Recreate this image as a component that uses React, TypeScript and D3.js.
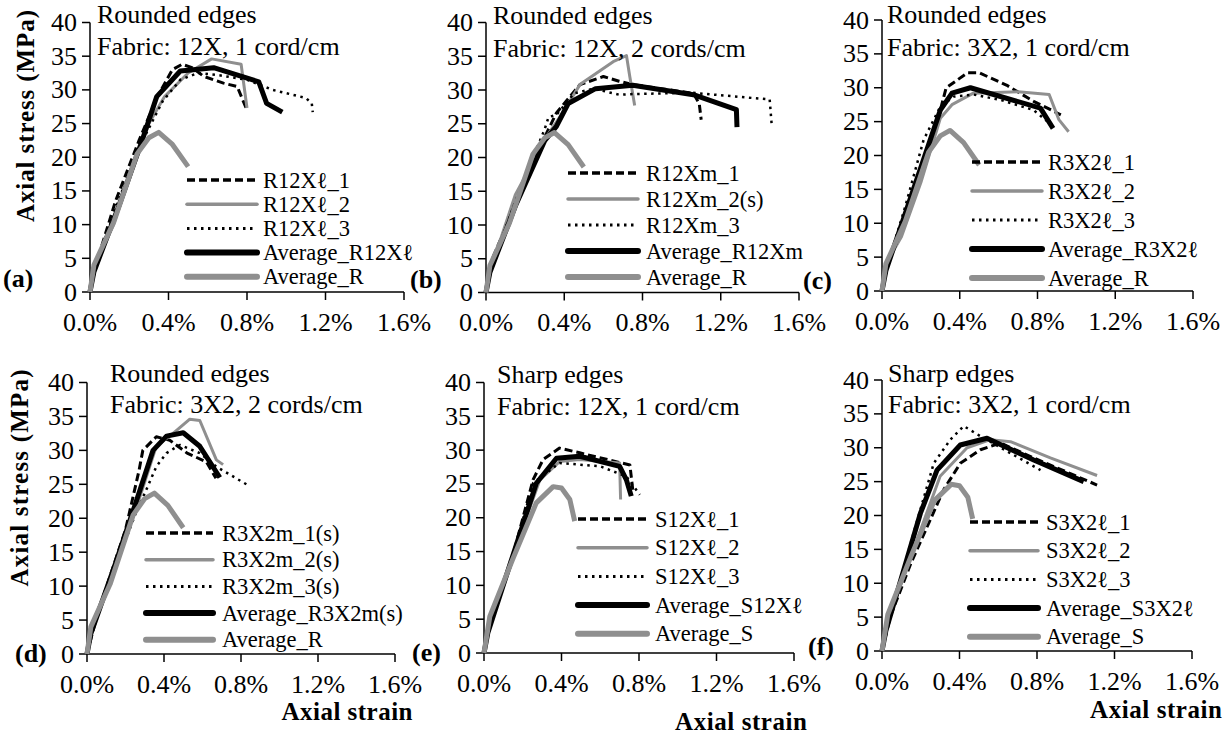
import React from "react";
import * as d3 from "d3";

type Pt = [number, number];

// ---------- DATA ----------
const yTicks = [0, 5, 10, 15, 20, 25, 30, 35, 40];
const xTicks = [0, 0.4, 0.8, 1.2, 1.6];
const xTickLabels = ["0.0%", "0.4%", "0.8%", "1.2%", "1.6%"];

const averageR: Pt[] = [[0, 0], [0.02, 4], [0.12, 10.3], [0.24, 20.5], [0.3, 22.9], [0.35, 23.7], [0.42, 21.9], [0.5, 18.6]];
const averageS: Pt[] = [[0, 0], [0.03, 5.4], [0.15, 14], [0.27, 22.2], [0.357, 24.6], [0.4, 24.4], [0.443, 22.7], [0.468, 19.5]];

// (a)
const r12xl1: Pt[] = [[0, 0], [0.03, 4], [0.13, 13.5], [0.25, 22.5], [0.34, 28.8], [0.42, 33], [0.47, 33.8], [0.52, 33.3], [0.58, 32], [0.68, 31], [0.75, 30.5], [0.8, 27]];
const r12xl2: Pt[] = [[0, 0], [0.02, 4], [0.12, 10], [0.2, 17], [0.3, 25], [0.38, 29], [0.5, 32.5], [0.62, 34.6], [0.77, 33.8], [0.8, 27.3]];
const r12xl3: Pt[] = [[0, 0], [0.03, 4], [0.15, 14], [0.26, 22], [0.37, 28.3], [0.46, 31.5], [0.55, 32.5], [0.65, 32.2], [0.8, 31.5], [0.93, 30], [1.1, 28.8], [1.13, 28], [1.135, 26.7]];
const avgR12xl: Pt[] = [[0, 0], [0.02, 3], [0.15, 13], [0.26, 22], [0.34, 29], [0.46, 32.8], [0.63, 33.3], [0.86, 31.2], [0.9, 28], [0.98, 26.7]];

// (b)
const r12xm1: Pt[] = [[0, 0], [0.037, 5.3], [0.15, 13], [0.3, 23], [0.36, 26.6], [0.48, 30.8], [0.6, 32], [0.68, 31.3], [0.75, 30.8], [1.06, 29.5], [1.09, 28], [1.1, 25.6]];
const r12xm2: Pt[] = [[0, 0], [0.03, 4], [0.15, 14.5], [0.31, 23.1], [0.4, 27], [0.48, 30.8], [0.65, 34.2], [0.718, 35.1], [0.735, 32], [0.76, 27.7]];
const r12xm3: Pt[] = [[0, 0], [0.03, 4], [0.15, 13.5], [0.29, 23.5], [0.3, 24.2], [0.32, 26], [0.36, 26.3], [0.45, 29.5], [0.55, 30.2], [0.68, 29.3], [0.75, 29.4], [1.05, 29.6], [1.45, 28.6], [1.46, 25]];
const avgR12xm: Pt[] = [[0, 0], [0.02, 3], [0.15, 12.8], [0.3, 22.5], [0.36, 24.6], [0.42, 28], [0.56, 30.2], [0.75, 30.7], [1.06, 29.3], [1.28, 27.1], [1.283, 24.5]];

// (c)
const r3x2l1: Pt[] = [[0, 0], [0.03, 4], [0.15, 14], [0.3, 26.7], [0.33, 30], [0.44, 32.2], [0.5, 32.2], [0.64, 30.4], [0.78, 28], [0.92, 26]];
const r3x2l2: Pt[] = [[0, 0], [0.03, 4.5], [0.1, 8], [0.2, 16], [0.3, 25.5], [0.36, 27.5], [0.47, 29.2], [0.7, 29.4], [0.86, 29], [0.91, 25.3], [0.96, 23.5]];
const r3x2l3: Pt[] = [[0, 0], [0.03, 4], [0.12, 12.5], [0.214, 22.3], [0.3, 27.2], [0.37, 28.7], [0.47, 29], [0.61, 28.2], [0.78, 26.7], [0.86, 24.8]];
const avgR3x2l: Pt[] = [[0, 0], [0.02, 3], [0.15, 14], [0.3, 26.7], [0.36, 29.2], [0.455, 30], [0.815, 27], [0.88, 24]];

// (d)
const r3x2m1: Pt[] = [[0, 0], [0.05, 5.5], [0.2, 18.3], [0.27, 27], [0.29, 30], [0.36, 32], [0.43, 31.5], [0.52, 29.6], [0.62, 28.3], [0.67, 25.9]];
const r3x2m2: Pt[] = [[0, 0], [0.03, 4], [0.15, 13.5], [0.25, 21], [0.36, 30.6], [0.447, 32.5], [0.534, 34.6], [0.586, 34.4], [0.672, 28.6], [0.707, 27.9]];
const r3x2m3: Pt[] = [[0, 0], [0.03, 4], [0.15, 13], [0.25, 20.5], [0.308, 24.2], [0.36, 27.6], [0.413, 29.6], [0.482, 30.8], [0.586, 29.6], [0.672, 27.6], [0.846, 24.7]];
const avgR3x2m: Pt[] = [[0, 0], [0.02, 3], [0.15, 13.5], [0.25, 22], [0.343, 30], [0.413, 32.1], [0.5, 32.6], [0.586, 30.6], [0.69, 26]];

// (e)
const s12xl1: Pt[] = [[0, 0], [0.03, 4], [0.15, 14.5], [0.253, 25.6], [0.305, 28.6], [0.39, 30.3], [0.494, 29.6], [0.753, 27.8], [0.77, 23.6]];
const s12xl2: Pt[] = [[0, 0], [0.03, 5], [0.15, 14.5], [0.288, 25.6], [0.39, 28.3], [0.494, 28.6], [0.7, 28.1], [0.705, 22.7]];
const s12xl3: Pt[] = [[0, 0], [0.03, 4], [0.15, 14.5], [0.253, 25.1], [0.39, 28.1], [0.6, 27.6], [0.735, 26.1], [0.804, 23.4]];
const avgS12xl: Pt[] = [[0, 0], [0.02, 3], [0.15, 14.5], [0.27, 25.1], [0.374, 28.8], [0.494, 29.1], [0.7, 27.6], [0.735, 25.6], [0.76, 23.2]];

// (f)
const s3x2l1: Pt[] = [[0, 0], [0.043, 5.1], [0.15, 13], [0.318, 23.8], [0.404, 27.7], [0.508, 29.7], [0.611, 30.7], [0.783, 28.5], [1.11, 24.5]];
const s3x2l2: Pt[] = [[0, 0], [0.03, 4.5], [0.15, 14], [0.3, 25.8], [0.439, 30], [0.559, 31.2], [0.663, 30.9], [0.869, 28.5], [1.11, 25.9]];
const s3x2l3: Pt[] = [[0, 0], [0.03, 4], [0.163, 17.4], [0.267, 27.7], [0.353, 31.2], [0.422, 33.2], [0.508, 31.7], [0.663, 29.2], [0.818, 26.7]];
const avgS3x2l: Pt[] = [[0, 0], [0.02, 3], [0.198, 20.3], [0.284, 26.7], [0.404, 30.4], [0.542, 31.4], [0.783, 28.2], [1.041, 25]];

const labelsA = ["R12Xℓ_1", "R12Xℓ_2", "R12Xℓ_3", "Average_R12Xℓ", "Average_R"];
const labelsB = ["R12Xm_1", "R12Xm_2(s)", "R12Xm_3", "Average_R12Xm", "Average_R"];
const labelsC = ["R3X2ℓ_1", "R3X2ℓ_2", "R3X2ℓ_3", "Average_R3X2ℓ", "Average_R"];
const labelsD = ["R3X2m_1(s)", "R3X2m_2(s)", "R3X2m_3(s)", "Average_R3X2m(s)", "Average_R"];
const labelsE = ["S12Xℓ_1", "S12Xℓ_2", "S12Xℓ_3", "Average_S12Xℓ", "Average_S"];
const labelsF = ["S3X2ℓ_1", "S3X2ℓ_2", "S3X2ℓ_3", "Average_S3X2ℓ", "Average_S"];

const titles1 = ["Rounded edges", "Rounded edges", "Rounded edges", "Rounded edges", "Sharp edges", "Sharp edges"];
const titles2 = ["Fabric: 12X, 1 cord/cm", "Fabric: 12X, 2 cords/cm", "Fabric: 3X2, 1 cord/cm", "Fabric: 3X2, 2 cords/cm", "Fabric: 12X, 1 cord/cm", "Fabric: 3X2, 1 cord/cm"];
const panelTags = ["(a)", "(b)", "(c)", "(d)", "(e)", "(f)"];

// ---------- STYLES / LAYOUT ----------
const GRAY = "#8f8f8f";
const styles = [
  { stroke: "#000", width: 3, dash: "8,4" },
  { stroke: GRAY, width: 3, dash: "" },
  { stroke: "#000", width: 2.5, dash: "2.5,4.5" },
  { stroke: "#000", width: 5, dash: "" },
  { stroke: GRAY, width: 5, dash: "" },
];

const FONT = "'Liberation Serif', 'Times New Roman', serif";

interface Layout {
  x0: number; x1: number; yTop: number; yBot: number;
  lx0: number; lx1: number; tx: number; ly0: number; ldy: number;
  ax: number; ab1: number; ab2: number;
  tagX: number; tagY: number;
}

const layouts: Layout[] = [
  { x0: 90, x1: 404, yTop: 22.5, yBot: 292, lx0: 187, lx1: 257, tx: 263, ly0: 180, ldy: 24.2, ax: 97, ab1: 23, ab2: 55, tagX: 3, tagY: 287 },
  { x0: 486, x1: 799, yTop: 22.5, yBot: 292.5, lx0: 568, lx1: 638, tx: 646, ly0: 173, ldy: 26, ax: 493, ab1: 24, ab2: 57, tagX: 410, tagY: 288 },
  { x0: 882, x1: 1193, yTop: 20, yBot: 291, lx0: 972, lx1: 1042, tx: 1048, ly0: 162, ldy: 29, ax: 887, ab1: 23, ab2: 56, tagX: 803, tagY: 289 },
  { x0: 87, x1: 395, yTop: 382.5, yBot: 654, lx0: 146, lx1: 213, tx: 222, ly0: 533, ldy: 26.7, ax: 110, ab1: 382, ab2: 413, tagX: 15, tagY: 662 },
  { x0: 484, x1: 794, yTop: 382.5, yBot: 653, lx0: 578, lx1: 647, tx: 655, ly0: 519, ldy: 28.7, ax: 497, ab1: 383, ab2: 415, tagX: 412, tagY: 661 },
  { x0: 882, x1: 1192, yTop: 380, yBot: 651, lx0: 970, lx1: 1038, tx: 1046, ly0: 522, ldy: 28.7, ax: 888, ab1: 382, ab2: 413, tagX: 808, tagY: 655 },
];

const panelSeries: Pt[][][] = [
  [r12xl1, r12xl2, r12xl3, avgR12xl, averageR],
  [r12xm1, r12xm2, r12xm3, avgR12xm, averageR],
  [r3x2l1, r3x2l2, r3x2l3, avgR3x2l, averageR],
  [r3x2m1, r3x2m2, r3x2m3, avgR3x2m, averageR],
  [s12xl1, s12xl2, s12xl3, avgS12xl, averageS],
  [s3x2l1, s3x2l2, s3x2l3, avgS3x2l, averageS],
];
const panelLabels = [labelsA, labelsB, labelsC, labelsD, labelsE, labelsF];

function Panel({ i }: { i: number }) {
  const L = layouts[i];
  const x = d3.scaleLinear().domain([0, 1.6]).range([L.x0, L.x1]);
  const y = d3.scaleLinear().domain([0, 40]).range([L.yBot, L.yTop]);
  const line = d3.line<Pt>().x((d) => x(d[0])).y((d) => y(d[1]));
  const series = panelSeries[i];
  const labels = panelLabels[i];
  return (
    <g>
      <line x1={L.x0} x2={L.x0} y1={y(0)} y2={y(40)} stroke="#000" strokeWidth={1.5} />
      <line x1={x(0)} x2={x(1.6)} y1={L.yBot} y2={L.yBot} stroke="#000" strokeWidth={1.5} />
      {yTicks.map((t) => (
        <g key={"y" + t}>
          <line x1={L.x0 - 8} x2={L.x0} y1={y(t)} y2={y(t)} stroke="#000" strokeWidth={1.5} />
          <text x={L.x0 - 13} y={y(t) + 8.5} textAnchor="end" fontSize={26} fontFamily={FONT}>{t}</text>
        </g>
      ))}
      {xTicks.map((t, k) => (
        <g key={"x" + t}>
          <line x1={x(t)} x2={x(t)} y1={L.yBot} y2={L.yBot + 8} stroke="#000" strokeWidth={1.5} />
          <text x={x(t)} y={L.yBot + 38.5} textAnchor="middle" fontSize={26} fontFamily={FONT}>{xTickLabels[k]}</text>
        </g>
      ))}
      {series.map((s, k) => (
        <path key={"s" + k} d={line(s) || ""} fill="none" stroke={styles[k].stroke} strokeWidth={styles[k].width}
          strokeDasharray={styles[k].dash || undefined} strokeLinejoin="round" />
      ))}
      {labels.map((lab, k) => {
        const ly = L.ly0 + k * L.ldy;
        return (
          <g key={"l" + k}>
            <line x1={L.lx0} x2={L.lx1} y1={ly} y2={ly} stroke={styles[k].stroke}
              strokeWidth={k >= 3 ? 6 : styles[k].width + 0.5} strokeDasharray={styles[k].dash || undefined}
              strokeLinecap={k >= 3 || k === 1 ? "round" : "butt"} />
            <text x={L.tx} y={ly + 7.5} fontSize={22.5} fontFamily={FONT}>{lab}</text>
          </g>
        );
      })}
      <text x={L.ax} y={L.ab1} fontSize={26} fontFamily={FONT}>{titles1[i]}</text>
      <text x={L.ax} y={L.ab2} fontSize={26} fontFamily={FONT}>{titles2[i]}</text>
      <text x={L.tagX} y={L.tagY} fontSize={26} fontWeight="bold" fontFamily={FONT}>{panelTags[i]}</text>
    </g>
  );
}

export default function App() {
  return (
    <svg width={1223} height={735} style={{ position: "absolute", left: 0, top: 0, background: "#fff" }}>
      <rect x={0} y={0} width={1223} height={735} fill="#fff" />
      {layouts.map((_, i) => <Panel key={i} i={i} />)}
      <text transform="translate(34,116) rotate(-90)" textAnchor="middle" fontSize={25} fontWeight="bold" fontFamily={FONT} textLength={212} lengthAdjust="spacing">Axial stress (MPa)</text>
      <text transform="translate(28,478) rotate(-90)" textAnchor="middle" fontSize={25} fontWeight="bold" fontFamily={FONT} textLength={217} lengthAdjust="spacing">Axial stress (MPa)</text>
      <text x={347} y={720} textAnchor="middle" fontSize={25} fontWeight="bold" fontFamily={FONT} textLength={131} lengthAdjust="spacing">Axial strain</text>
      <text x={741} y={730} textAnchor="middle" fontSize={25} fontWeight="bold" fontFamily={FONT} textLength={132} lengthAdjust="spacing">Axial strain</text>
      <text x={1156} y={718} textAnchor="middle" fontSize={25} fontWeight="bold" fontFamily={FONT} textLength={132} lengthAdjust="spacing">Axial strain</text>
    </svg>
  );
}
